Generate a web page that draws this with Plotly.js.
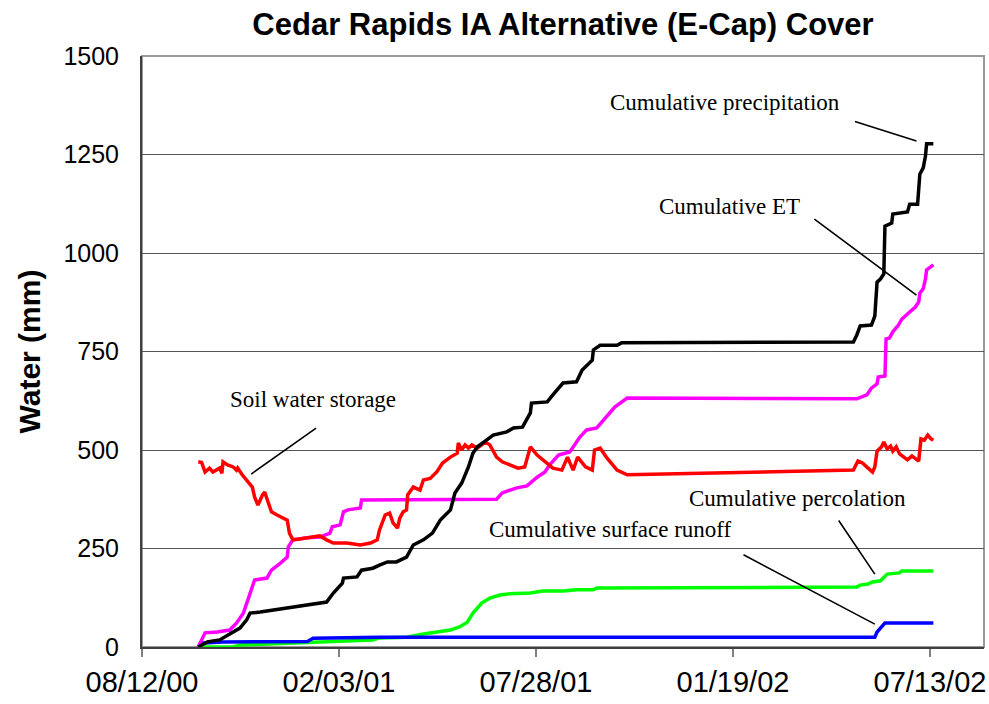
<!DOCTYPE html>
<html>
<head>
<meta charset="utf-8">
<script src="https://cdn.plot.ly/plotly-3.0.1.min.js"></script>
<style>html,body{margin:0;padding:0;background:#fff}#chart{width:989px;height:704px}</style>
</head>
<body>
<div id="chart"></div>
<script>
// ---- Data ----
const precipDates = ['2000-10-01','2000-10-09','2000-10-20','2000-10-27','2000-11-01','2000-11-07','2000-11-13','2000-11-16','2000-11-25','2000-12-06','2000-12-21','2001-01-06','2001-01-23','2001-01-29','2001-02-06','2001-02-07','2001-02-19','2001-02-23','2001-03-05','2001-03-11','2001-03-18','2001-03-26','2001-04-04','2001-04-10','2001-04-19','2001-04-27','2001-05-04','2001-05-13','2001-05-17','2001-05-23','2001-05-29','2001-06-02','2001-06-06','2001-06-14','2001-06-20','2001-07-02','2001-07-08','2001-07-16','2001-07-23','2001-07-24','2001-08-07','2001-08-12','2001-08-21','2001-09-02','2001-09-07','2001-09-16','2001-09-17','2001-09-23','2001-10-08','2001-10-12','2002-05-06','2002-05-09','2002-05-12','2002-05-22','2002-05-25','2002-05-27','2002-05-30','2002-06-02','2002-06-03','2002-06-09','2002-06-10','2002-06-23','2002-06-25','2002-07-02','2002-07-04','2002-07-07','2002-07-09','2002-07-10','2002-07-16'];
const precipValues = [0,13,18,30,36,48,69,86,89,94,99,107,114,137,162,175,178,195,200,208,216,216,228,259,272,289,322,348,391,416,457,492,508,525,538,546,556,558,594,619,622,640,670,673,703,728,754,766,766,772,774,792,815,817,840,926,934,947,1068,1076,1099,1104,1124,1124,1200,1216,1246,1277,1277];

const etDates = ['2000-10-01','2000-10-07','2000-10-18','2000-10-29','2000-11-04','2000-11-10','2000-11-14','2000-11-20','2000-12-01','2000-12-05','2000-12-13','2000-12-19','2000-12-20','2000-12-24','2001-01-06','2001-01-17','2001-01-26','2001-01-28','2001-02-04','2001-02-07','2001-02-11','2001-02-22','2001-02-23','2001-06-23','2001-06-28','2001-07-11','2001-07-20','2001-07-29','2001-08-05','2001-08-09','2001-08-17','2001-08-27','2001-09-05','2001-09-11','2001-09-20','2001-09-29','2001-10-06','2001-10-17','2002-05-09','2002-05-18','2002-05-22','2002-05-27','2002-05-28','2002-06-03','2002-06-04','2002-06-07','2002-06-10','2002-06-15','2002-06-18','2002-06-23','2002-06-30','2002-07-03','2002-07-04','2002-07-07','2002-07-09','2002-07-10','2002-07-13','2002-07-16'];
const etValues = [0,36,38,43,61,86,119,170,175,195,213,228,254,272,277,279,289,305,310,343,348,353,373,375,391,404,409,431,444,462,487,495,533,551,556,584,609,632,630,640,657,668,685,688,782,784,800,817,832,845,863,876,898,909,934,957,964,970];

const soilDates = ['2000-10-01','2000-10-04','2000-10-07','2000-10-11','2000-10-14','2000-10-20','2000-10-22','2000-10-23','2000-10-27','2000-11-01','2000-11-04','2000-11-05','2000-11-09','2000-11-13','2000-11-18','2000-11-20','2000-11-23','2000-11-27','2000-11-29','2000-12-02','2000-12-05','2000-12-10','2000-12-14','2000-12-19','2000-12-21','2000-12-24','2000-12-30','2001-01-17','2001-01-23','2001-01-29','2001-02-10','2001-02-22','2001-03-03','2001-03-09','2001-03-11','2001-03-16','2001-03-20','2001-03-23','2001-03-27','2001-03-29','2001-04-01','2001-04-04','2001-04-05','2001-04-10','2001-04-16','2001-04-19','2001-04-25','2001-05-01','2001-05-06','2001-05-13','2001-05-19','2001-05-20','2001-05-23','2001-05-26','2001-05-29','2001-06-01','2001-06-06','2001-06-13','2001-06-17','2001-06-23','2001-06-28','2001-07-05','2001-07-12','2001-07-18','2001-07-23','2001-07-29','2001-08-05','2001-08-12','2001-08-20','2001-08-25','2001-08-30','2001-09-03','2001-09-10','2001-09-16','2001-09-18','2001-09-23','2001-09-29','2001-10-08','2001-10-17','2002-05-06','2002-05-10','2002-05-14','2002-05-19','2002-05-23','2002-05-25','2002-05-27','2002-05-31','2002-06-02','2002-06-05','2002-06-08','2002-06-10','2002-06-13','2002-06-16','2002-06-21','2002-06-23','2002-06-27','2002-07-03','2002-07-05','2002-07-08','2002-07-11','2002-07-14','2002-07-16'];
const soilValues = [470,468,444,454,444,454,441,470,462,457,449,454,437,424,406,381,360,386,393,368,343,335,330,322,289,272,274,282,272,264,264,259,264,272,297,335,340,315,302,327,343,348,386,406,398,424,428,445,467,482,492,518,500,513,505,513,505,520,513,482,470,462,454,457,508,487,470,454,449,482,449,482,457,449,500,505,480,449,437,449,472,467,454,444,457,497,508,520,503,510,497,508,490,480,475,485,472,528,525,538,528,525];

const percDates = ['2000-10-01','2000-11-01','2000-11-07','2000-12-06','2001-01-06','2001-03-05','2001-03-11','2001-04-04','2001-04-19','2001-05-04','2001-05-13','2001-05-21','2001-05-28','2001-06-02','2001-06-10','2001-06-17','2001-06-26','2001-07-05','2001-07-14','2001-07-23','2001-08-03','2001-08-21','2001-09-02','2001-09-17','2001-09-20','2001-10-11','2001-10-13','2002-05-09','2002-05-12','2002-05-19','2002-05-23','2002-05-30','2002-06-05','2002-06-16','2002-06-18','2002-07-16'];
const percValues = [0,0,5,8,13,18,23,25,33,38,43,51,63,86,112,124,132,135,137,137,142,142,145,145,150,150,152,152,157,160,165,168,185,188,193,193];

const runoffDates = ['2000-10-01','2000-10-05','2000-10-23','2001-01-06','2001-01-11','2001-03-11','2002-05-25','2002-05-27','2002-05-30','2002-06-03','2002-07-16'];
const runoffValues = [0,10,13,14,22,25,25,38,48,61,61];

const tickDates = ['2000-08-12','2001-02-03','2001-07-28','2002-01-19','2002-07-13'];
const tickLabels = ['08/12/00','02/03/01','07/28/01','01/19/02','07/13/02'];
const yTicks = [0,250,500,750,1000,1250,1500];

// annotation labels
const labelTexts = ['Cumulative precipitation','Cumulative ET','Soil water storage','Cumulative percolation','Cumulative surface runoff'];
const labelDates = ['2002-01-12','2002-01-16','2001-01-11','2002-03-17','2001-10-02'];
const labelValues = [1383,1119,629,378,297];
// leader lines: from (date, value) to (date, value)
const leaderFromDates = ['2002-05-06','2002-03-31','2001-01-15','2002-04-22','2002-01-27'];
const leaderFromValues = [1335,1089,558,325,236];
const leaderToDates = ['2002-07-01','2002-07-01','2000-11-17','2002-05-25','2002-05-25'];
const leaderToValues = [1284,893,439,185,58];

// ---- Traces ----
const lw = 3.5;
const traces = [
  {x: percDates, y: percValues, name: 'Cumulative percolation', line: {color: '#00ff00', width: lw}},
  {x: runoffDates, y: runoffValues, name: 'Cumulative surface runoff', line: {color: '#0000ff', width: lw}},
  {x: etDates, y: etValues, name: 'Cumulative ET', line: {color: '#ff00ff', width: lw}},
  {x: soilDates, y: soilValues, name: 'Soil water storage', line: {color: '#ff0000', width: lw}},
  {x: precipDates, y: precipValues, name: 'Cumulative precipitation', line: {color: '#000000', width: lw}}
].map(t => Object.assign({type: 'scatter', mode: 'lines', hoverinfo: 'x+y'}, t));

const annotations = [];
for (let i = 0; i < labelTexts.length; i++) {
  annotations.push({
    x: labelDates[i], y: labelValues[i], xref: 'x', yref: 'y',
    text: labelTexts[i], showarrow: false,
    font: {family: 'Liberation Serif, Times New Roman, serif', size: 23, color: '#000'},
    xanchor: 'center', yanchor: 'middle'
  });
  annotations.push({
    x: leaderToDates[i], y: leaderToValues[i], xref: 'x', yref: 'y',
    ax: leaderFromDates[i], ay: leaderFromValues[i], axref: 'x', ayref: 'y',
    text: '', showarrow: true, arrowhead: 0, arrowwidth: 1.6, arrowcolor: '#000',
    standoff: 0, startstandoff: 0
  });
}

const layout = {
  width: 989, height: 704,
  paper_bgcolor: '#ffffff', plot_bgcolor: '#ffffff',
  margin: {l: 142, r: 5, t: 56, b: 57},
  showlegend: false,
  title: {
    text: '<b>Cedar Rapids IA Alternative (E-Cap) Cover</b>',
    font: {family: 'Liberation Sans, Arial, sans-serif', size: 31, color: '#000'},
    x: 0.5, xref: 'paper', xanchor: 'center', y: 0.966, yanchor: 'middle'
  },
  xaxis: {
    type: 'date', range: ['2000-08-12', '2002-08-30'],
    tickmode: 'array', tickvals: tickDates, ticktext: tickLabels,
    ticks: 'outside', ticklen: 8, tickwidth: 2, tickcolor: '#808080',
    showgrid: false, zeroline: false,
    showline: true, linecolor: '#404040', linewidth: 2,
    tickfont: {family: 'Liberation Sans, Arial, sans-serif', size: 29, color: '#000'}
  },
  yaxis: {
    range: [0, 1500], tickmode: 'array', tickvals: yTicks,
    ticks: '', ticklabelstandoff: 16,
    showgrid: true, gridcolor: '#555555', gridwidth: 1,
    zeroline: false, showline: true, linecolor: '#404040', linewidth: 2,
    tickfont: {family: 'Liberation Sans, Arial, sans-serif', size: 25, color: '#000'},
    title: {text: '<b>Water (mm)</b>', standoff: 14,
      font: {family: 'Liberation Sans, Arial, sans-serif', size: 30, color: '#000'}}
  },
  shapes: [{type: 'rect', xref: 'paper', yref: 'paper', x0: 0, x1: 1, y0: 0, y1: 1,
    line: {color: '#999999', width: 2}, layer: 'below'}],
  annotations: annotations
};

Plotly.newPlot('chart', traces, layout, {displayModeBar: false, staticPlot: true});
</script>
</body>
</html>
